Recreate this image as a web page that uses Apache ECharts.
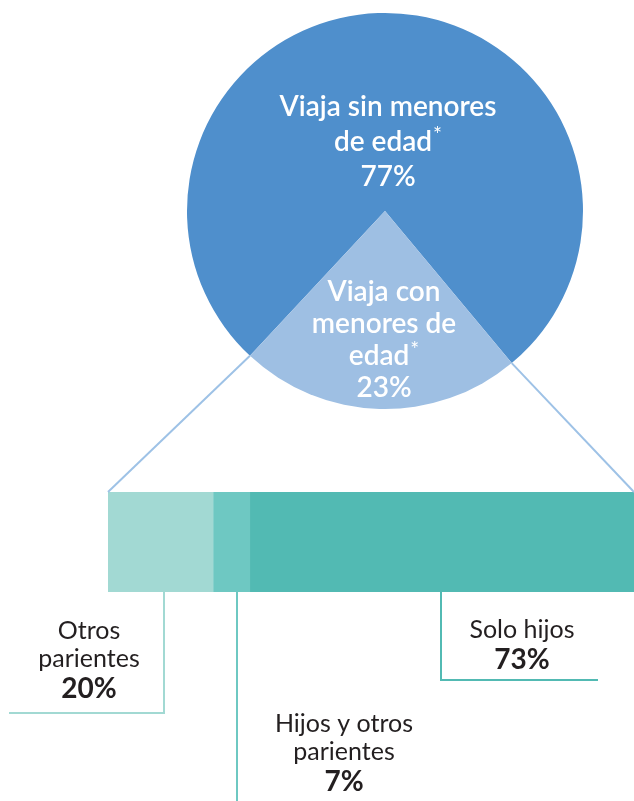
<!DOCTYPE html>
<html>
<head>
<meta charset="utf-8">
<script src="https://cdn.jsdelivr.net/npm/echarts@6/dist/echarts.min.js"></script>
<style>
  html, body { margin: 0; padding: 0; background: #fff; }
  #chart { width: 634px; height: 801px; }
</style>
</head>
<body>
<div id="chart"></div>
<script>
// pie: who the traveller goes with
const pieNames = ['Viaja sin menores de edad', 'Viaja con menores de edad']
const pieValues = [77, 23]
const pieColors = ['#4f8fcc', '#9ebfe3']

// bar: breakdown of the 23%
const barNames = ['Otros parientes', 'Hijos y otros parientes', 'Solo hijos']
const barValues = [20, 7, 73]
const barColors = ['#a2d9d3', '#6ec8c2', '#52bab3']

const FONT = 'Lato, "Open Sans", sans-serif'
const pieCenter = [385, 211]
const pieRadius = 198
const startAngle = 227

var dom = document.getElementById('chart')
var chart = echarts.init(dom, null, { renderer: 'canvas' })

let options = {
  animation: false,
  grid: { left: 108, top: 492, width: 535, height: 100 },
  xAxis: { type: 'value', min: 0, max: 100, show: false },
  yAxis: { type: 'category', data: ['menores'], show: false },
  series: [
    {
      type: 'pie',
      center: pieCenter,
      radius: pieRadius,
      startAngle: startAngle,
      clockwise: true,
      label: { show: false },
      labelLine: { show: false },
      emphasis: { disabled: true },
      data: pieValues.map((v, i) => ({ name: pieNames[i], value: v, itemStyle: { color: pieColors[i] } }))
    }
  ].concat(barValues.map((v, i) => ({
    type: 'bar',
    name: barNames[i],
    stack: 'total',
    barWidth: 100,
    itemStyle: { color: barColors[i] },
    emphasis: { disabled: true },
    data: [v]
  })))
}
chart.setOption(options)

// slice edge points for the zoom lines
function edge(angleDeg) {
  const a = angleDeg * Math.PI / 180
  return [pieCenter[0] + pieRadius * Math.cos(a), pieCenter[1] - pieRadius * Math.sin(a)]
}
const sliceSweep = pieValues[1] / 100 * 360
const leftEdge = edge(startAngle)
const rightEdge = edge(startAngle + sliceSweep)
const barLeftTop = chart.convertToPixel({ gridIndex: 0 }, [0, 0])
const barRightTop = chart.convertToPixel({ gridIndex: 0 }, [100, 0])
const barTop = 492, barBottom = 592

// segment centres
let acc = 0
const centers = barValues.map(v => {
  const c = chart.convertToPixel({ gridIndex: 0 }, [acc + v / 2, 0])[0]
  acc += v
  return c
})

// callout layout: where each line turns and where its label sits
const callouts = [
  { dx: 3, bottom: 713, toX: 9, tx: 89, ty: 661, color: '#a2d9d3' },
  { dx: 5, bottom: 801, toX: null, tx: 344, ty: 754, color: '#6ec8c2' },
  { dx: -1, bottom: 680, toX: 598, tx: 522, ty: 646, color: '#52bab3' }
]

const DARK = '#231f20'
const nameStyle = { fontFamily: FONT, fontSize: 25, lineHeight: 28, fill: DARK }
const pctStyle = { fontFamily: FONT, fontSize: 28, fontWeight: 'bold', lineHeight: 32, fill: DARK }
const labelLines = [['Otros', 'parientes'], ['Hijos y otros', 'parientes'], ['Solo hijos']]

let graphics = []
graphics.push({
  type: 'polyline', silent: true, z: 100,
  shape: { points: [leftEdge, [barLeftTop[0], barTop]] },
  style: { stroke: '#9ec2e6', lineWidth: 2, fill: null }
})
graphics.push({
  type: 'polyline', silent: true, z: 100,
  shape: { points: [rightEdge, [barRightTop[0], barTop]] },
  style: { stroke: '#9ec2e6', lineWidth: 2, fill: null }
})

callouts.forEach((c, i) => {
  const x = Math.round(centers[i] + c.dx)
  const pts = [[x, barBottom], [x, c.bottom]]
  if (c.toX !== null) pts.push([c.toX, c.bottom])
  graphics.push({
    type: 'polyline', silent: true, z: 100,
    shape: { points: pts },
    style: { stroke: c.color, lineWidth: 2, fill: null }
  })
  const txt = labelLines[i].map(s => '{n|' + s + '}').join('\n') + '\n{p|' + barValues[i] + '%}'
  graphics.push({
    type: 'text', silent: true, z: 100,
    x: c.tx, y: c.ty,
    style: {
      text: txt, align: 'center', verticalAlign: 'middle', fill: DARK,
      rich: { n: nameStyle, p: pctStyle }
    }
  })
})

// pie labels
const pieTxtStyle = { fontFamily: FONT, fontSize: 28, fontWeight: 600, fill: '#fff' }
const supStyle = { fontFamily: FONT, fontSize: 21, fill: '#fff', verticalAlign: 'top', padding: [0, 0, 0, 1] }
graphics.push({
  type: 'text', silent: true, z: 100,
  x: 388, y: 142,
  style: {
    text: '{t|Viaja sin menores}\n{t|de edad}{s|*}\n{t|' + pieValues[0] + '%}',
    align: 'center', verticalAlign: 'middle', fill: '#fff',
    rich: {
      t: Object.assign({ lineHeight: 35 }, pieTxtStyle),
      s: Object.assign({ lineHeight: 35 }, supStyle)
    }
  }
})
graphics.push({
  type: 'text', silent: true, z: 100,
  x: 384, y: 340,
  style: {
    text: '{t|Viaja con}\n{t|menores de}\n{t|edad}{s|*}\n{t|' + pieValues[1] + '%}',
    align: 'center', verticalAlign: 'middle', fill: '#fff',
    rich: {
      t: Object.assign({ lineHeight: 32 }, pieTxtStyle),
      s: Object.assign({ lineHeight: 32 }, supStyle)
    }
  }
})

chart.setOption({ graphic: graphics })
</script>
</body>
</html>
